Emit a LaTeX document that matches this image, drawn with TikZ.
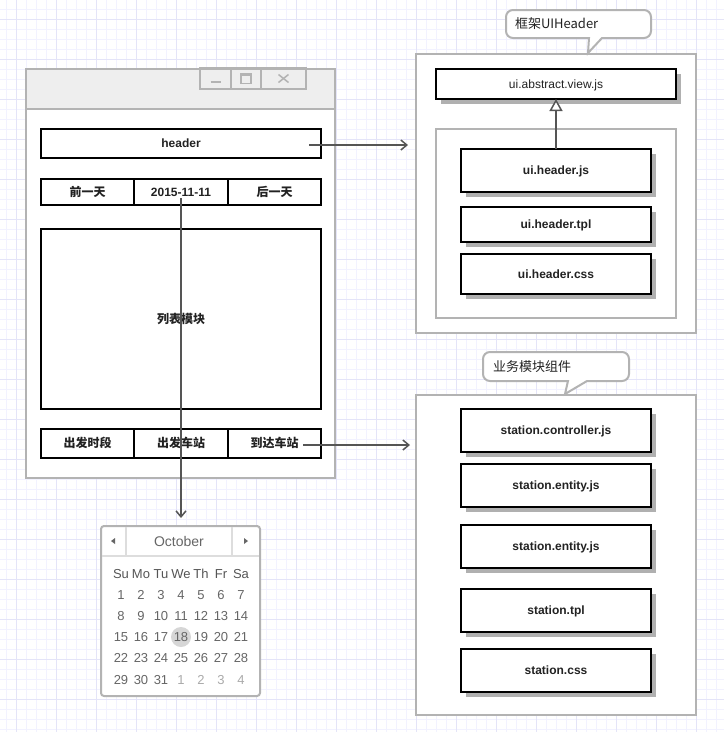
\documentclass[tikz,border=0pt]{standalone}
\usepackage{fontspec}
\setmainfont{Liberation Sans}
\newfontfamily\cjk{Noto Sans CJK SC}
\usetikzlibrary{arrows.meta,shadows,calc}
\definecolor{cGray}{HTML}{B3B3B3}
\definecolor{cTitle}{HTML}{EEEEEE}
\definecolor{cShadow}{HTML}{B0B0B0}
\definecolor{cLine}{HTML}{555555}
\definecolor{cGridMinor}{HTML}{F2F2FF}
\definecolor{cGridMajor}{HTML}{E4E4F8}
\definecolor{cText}{HTML}{222222}
\definecolor{cCalText}{HTML}{666666}
\definecolor{cCalHead}{HTML}{555555}
\definecolor{cCalLight}{HTML}{AAAAAA}
\definecolor{cCalSep}{HTML}{DDDDDD}
\definecolor{cToday}{HTML}{D6D6D6}
\begin{document}
\begin{tikzpicture}[x=1pt,y=-1pt,
  every node/.style={inner sep=0pt,outer sep=0pt},
  gridminor/.style={draw=cGridMinor,line width=1pt},
  gridmajor/.style={draw=cGridMajor,line width=1pt},
  grayline/.style={draw=cGray,line width=2pt},
  box/.style={draw=black,line width=2pt,fill=white,text=cText,
    text height=8.5pt,text depth=0pt,
    font=\fontsize{12}{14}\selectfont\bfseries},
  cjkbox/.style={box,font=\fontsize{12}{14}\selectfont\cjk\bfseries},
  filebox/.style={box,drop shadow={shadow xshift=5pt,shadow yshift=-5pt,fill=cShadow,opacity=1}},
  container/.style={draw=cGray,line width=2pt,fill=white},
  callout/.style={draw=cGray,line width=2pt,fill=white},
  callouttext/.style={anchor=west,text=cText,font=\fontsize{13}{15}\selectfont\cjk},
  conn/.style={draw=cLine,line width=1.5pt,-{Straight Barb[length=6pt,width=10pt]}},
  inherit/.style={draw=cLine,line width=1.5pt,-{Triangle[open,length=12pt,width=13pt,fill=white]}},
  ctrl/.style={draw=cGray,line width=1.5pt},
  calbase/.style={text height=9.5pt,text depth=0pt,font=\fontsize{13}{15}\selectfont},
  caltext/.style={calbase,text=cCalText},
  calhead/.style={calbase,text=cCalHead},
  callight/.style={calbase,text=cCalLight},
]
% background and grid
\fill[white] (0,0) rectangle (724,732);
\useasboundingbox (0,0) rectangle (724,732);
\foreach \x in {6,16,...,724} \draw[gridminor] (\x,0) -- (\x,732);
\foreach \y in {9,19,...,732} \draw[gridminor] (0,\y) -- (724,\y);
\foreach \x in {16,56,...,724} \draw[gridmajor] (\x,0) -- (\x,732);
\foreach \y in {19,59,...,732} \draw[gridmajor] (0,\y) -- (724,\y);

% ---------- window ----------
\node[fill=white,minimum width=309pt,minimum height=409pt] (win) at (180.5,273.5) {};
\node[fill=cTitle,minimum width=309pt,minimum height=40pt] (title) at (180.5,89) {};
\draw[grayline] (title.south west) -- (title.south east);
\draw[grayline] (win.north west) rectangle (win.south east);
% window controls
\node[ctrl,minimum width=31pt,minimum height=21pt] (cmin) at (215.5,78.5) {};
\node[ctrl,minimum width=30pt,minimum height=21pt] (cmax) at (246,78.5) {};
\node[ctrl,minimum width=45pt,minimum height=21pt] (cclose) at (283.5,78.5) {};
\draw[cGray,line width=2pt] ($(cmin.center)+(-5,3)$) -- ($(cmin.center)+(5,3)$);
\draw[cGray,line width=1.5pt] ($(cmax.center)+(-5,-4.5)$) rectangle ($(cmax.center)+(5,5)$);
\draw[cGray,line width=2pt] ($(cmax.center)+(-5,-4)$) -- ($(cmax.center)+(5,-4)$);
\draw[cGray,line width=1.5pt] ($(cclose.center)+(-5,-4)$) -- ($(cclose.center)+(5,4)$);
\draw[cGray,line width=1.5pt] ($(cclose.center)+(-5,4)$) -- ($(cclose.center)+(5,-4)$);

% header
\node[box,minimum width=280pt,minimum height=29pt] (header) at (181,143.5) {header};
% date row
\node[cjkbox,minimum width=93pt,minimum height=26pt] (d1) at (87.5,192) {前一天};
\node[box,minimum width=94pt,minimum height=26pt] (d2) at (181,192) {2015-11-11};
\node[cjkbox,minimum width=93pt,minimum height=26pt] (d3) at (274.5,192) {后一天};
% list
\node[cjkbox,minimum width=280pt,minimum height=180pt] (list) at (181,319) {列表模块};
% bottom row
\node[cjkbox,minimum width=93pt,minimum height=29pt] (b1) at (87.5,443.5) {出发时段};
\node[cjkbox,minimum width=94pt,minimum height=29pt] (b2) at (181,443.5) {出发车站};
\node[cjkbox,minimum width=93pt,minimum height=29pt] (b3) at (274.5,443.5) {到达车站};

% ---------- top right container ----------
\node[container,minimum width=280pt,minimum height=279pt] (topc) at (556,193.5) {};
\draw[callout] (560,10) [rounded corners=7pt] -- (651,10) -- (651,38) [sharp corners] -- (602,38) -- (588,53) -- (589,38) [rounded corners=7pt] -- (506,38) -- (506,10) [sharp corners] -- cycle;
\node[callouttext] (call1) at (515,24) {框架UIHeader};
\node[filebox,font=\fontsize{12}{14}\selectfont,minimum width=240pt,minimum height=30pt] (abs) at (556,84) {ui.abstract.view.js};
\node[container,minimum width=240pt,minimum height=189pt] (inner) at (556,223.5) {};
\node[filebox,minimum width=190pt,minimum height=43pt] (hjs) at (556,170.5) {ui.header.js};
\node[filebox,minimum width=190pt,minimum height=35pt] (htpl) at (556,224.5) {ui.header.tpl};
\node[filebox,minimum width=190pt,minimum height=40pt] (hcss) at (556,274) {ui.header.css};
\draw[inherit] (hjs.north) -- (abs.south);

% ---------- bottom right container ----------
\node[container,minimum width=280pt,minimum height=320pt] (botc) at (556,555) {};
\draw[callout] (550,352) [rounded corners=7pt] -- (629,352) -- (629,381) [sharp corners] -- (587,381) -- (565,394) -- (568,381) [rounded corners=7pt] -- (483,381) -- (483,352) [sharp corners] -- cycle;
\node[callouttext] (call2) at (493,366.5) {业务模块组件};
\node[filebox,minimum width=190pt,minimum height=43pt] (s1) at (556,430.5) {station.controller.js};
\node[filebox,minimum width=190pt,minimum height=43pt] (s2) at (556,485.5) {station.entity.js};
\node[filebox,minimum width=190pt,minimum height=43pt] (s3) at (556,546.5) {station.entity.js};
\node[filebox,minimum width=190pt,minimum height=43pt] (s4) at (556,610.5) {station.tpl};
\node[filebox,minimum width=190pt,minimum height=43pt] (s5) at (556,670.5) {station.css};

% ---------- calendar ----------
\node[draw=cGray,line width=2pt,rounded corners=3pt,fill=white,minimum width=159pt,minimum height=170pt] (cal) at (180.5,611) {};
\draw[cCalSep,line width=1.5pt] ($(cal.north west)+(1,30)$) -- ($(cal.north east)+(-1,30)$);
\draw[cCalSep,line width=1.5pt] ($(cal.north west)+(25,1)$) -- ($(cal.north west)+(25,30)$);
\draw[cCalSep,line width=1.5pt] ($(cal.north west)+(131,1)$) -- ($(cal.north west)+(131,30)$);
\node[text=cCalText,font=\fontsize{14}{16}\selectfont] (month) at (179,541) {October};
\fill[cCalText] (111,541) -- (115,538) -- (115,544) -- cycle;
\fill[cCalText] (248,541) -- (244,538) -- (244,544) -- cycle;
\foreach \d [count=\i from 0] in {Su,Mo,Tu,We,Th,Fr,Sa}
  \node[calhead] (h\i) at (121+20*\i,573.5) {\d};
\fill[cToday] (181,637) circle (10pt);
\foreach \n in {1,...,35} {
  \pgfmathtruncatemacro{\col}{mod(\n-1,7)}
  \pgfmathtruncatemacro{\row}{div(\n-1,7)}
  \pgfmathtruncatemacro{\lab}{\n>31 ? \n-31 : \n}
  \pgfmathsetmacro{\yy}{594.5+21.2*\row}
  \ifnum\n>31
    \node[callight] (n\n) at (121+20*\col,\yy) {\lab};
  \else
    \node[caltext] (n\n) at (121+20*\col,\yy) {\lab};
  \fi
}

% ---------- connectors ----------
\draw[conn] ([xshift=-12pt,yshift=-1.5pt]header.east) -- ($(header.east -| topc.west)+(-8,1.5)$);
\draw[conn] ([xshift=-18pt,yshift=-1.5pt]b3.east) -- ($(b3.east -| botc.west)+(-6,1.5)$);
\draw[conn] ([yshift=-6pt]d2.center) -- ($(cal.north)+(0.5,-8)$);
\end{tikzpicture}
\end{document}
